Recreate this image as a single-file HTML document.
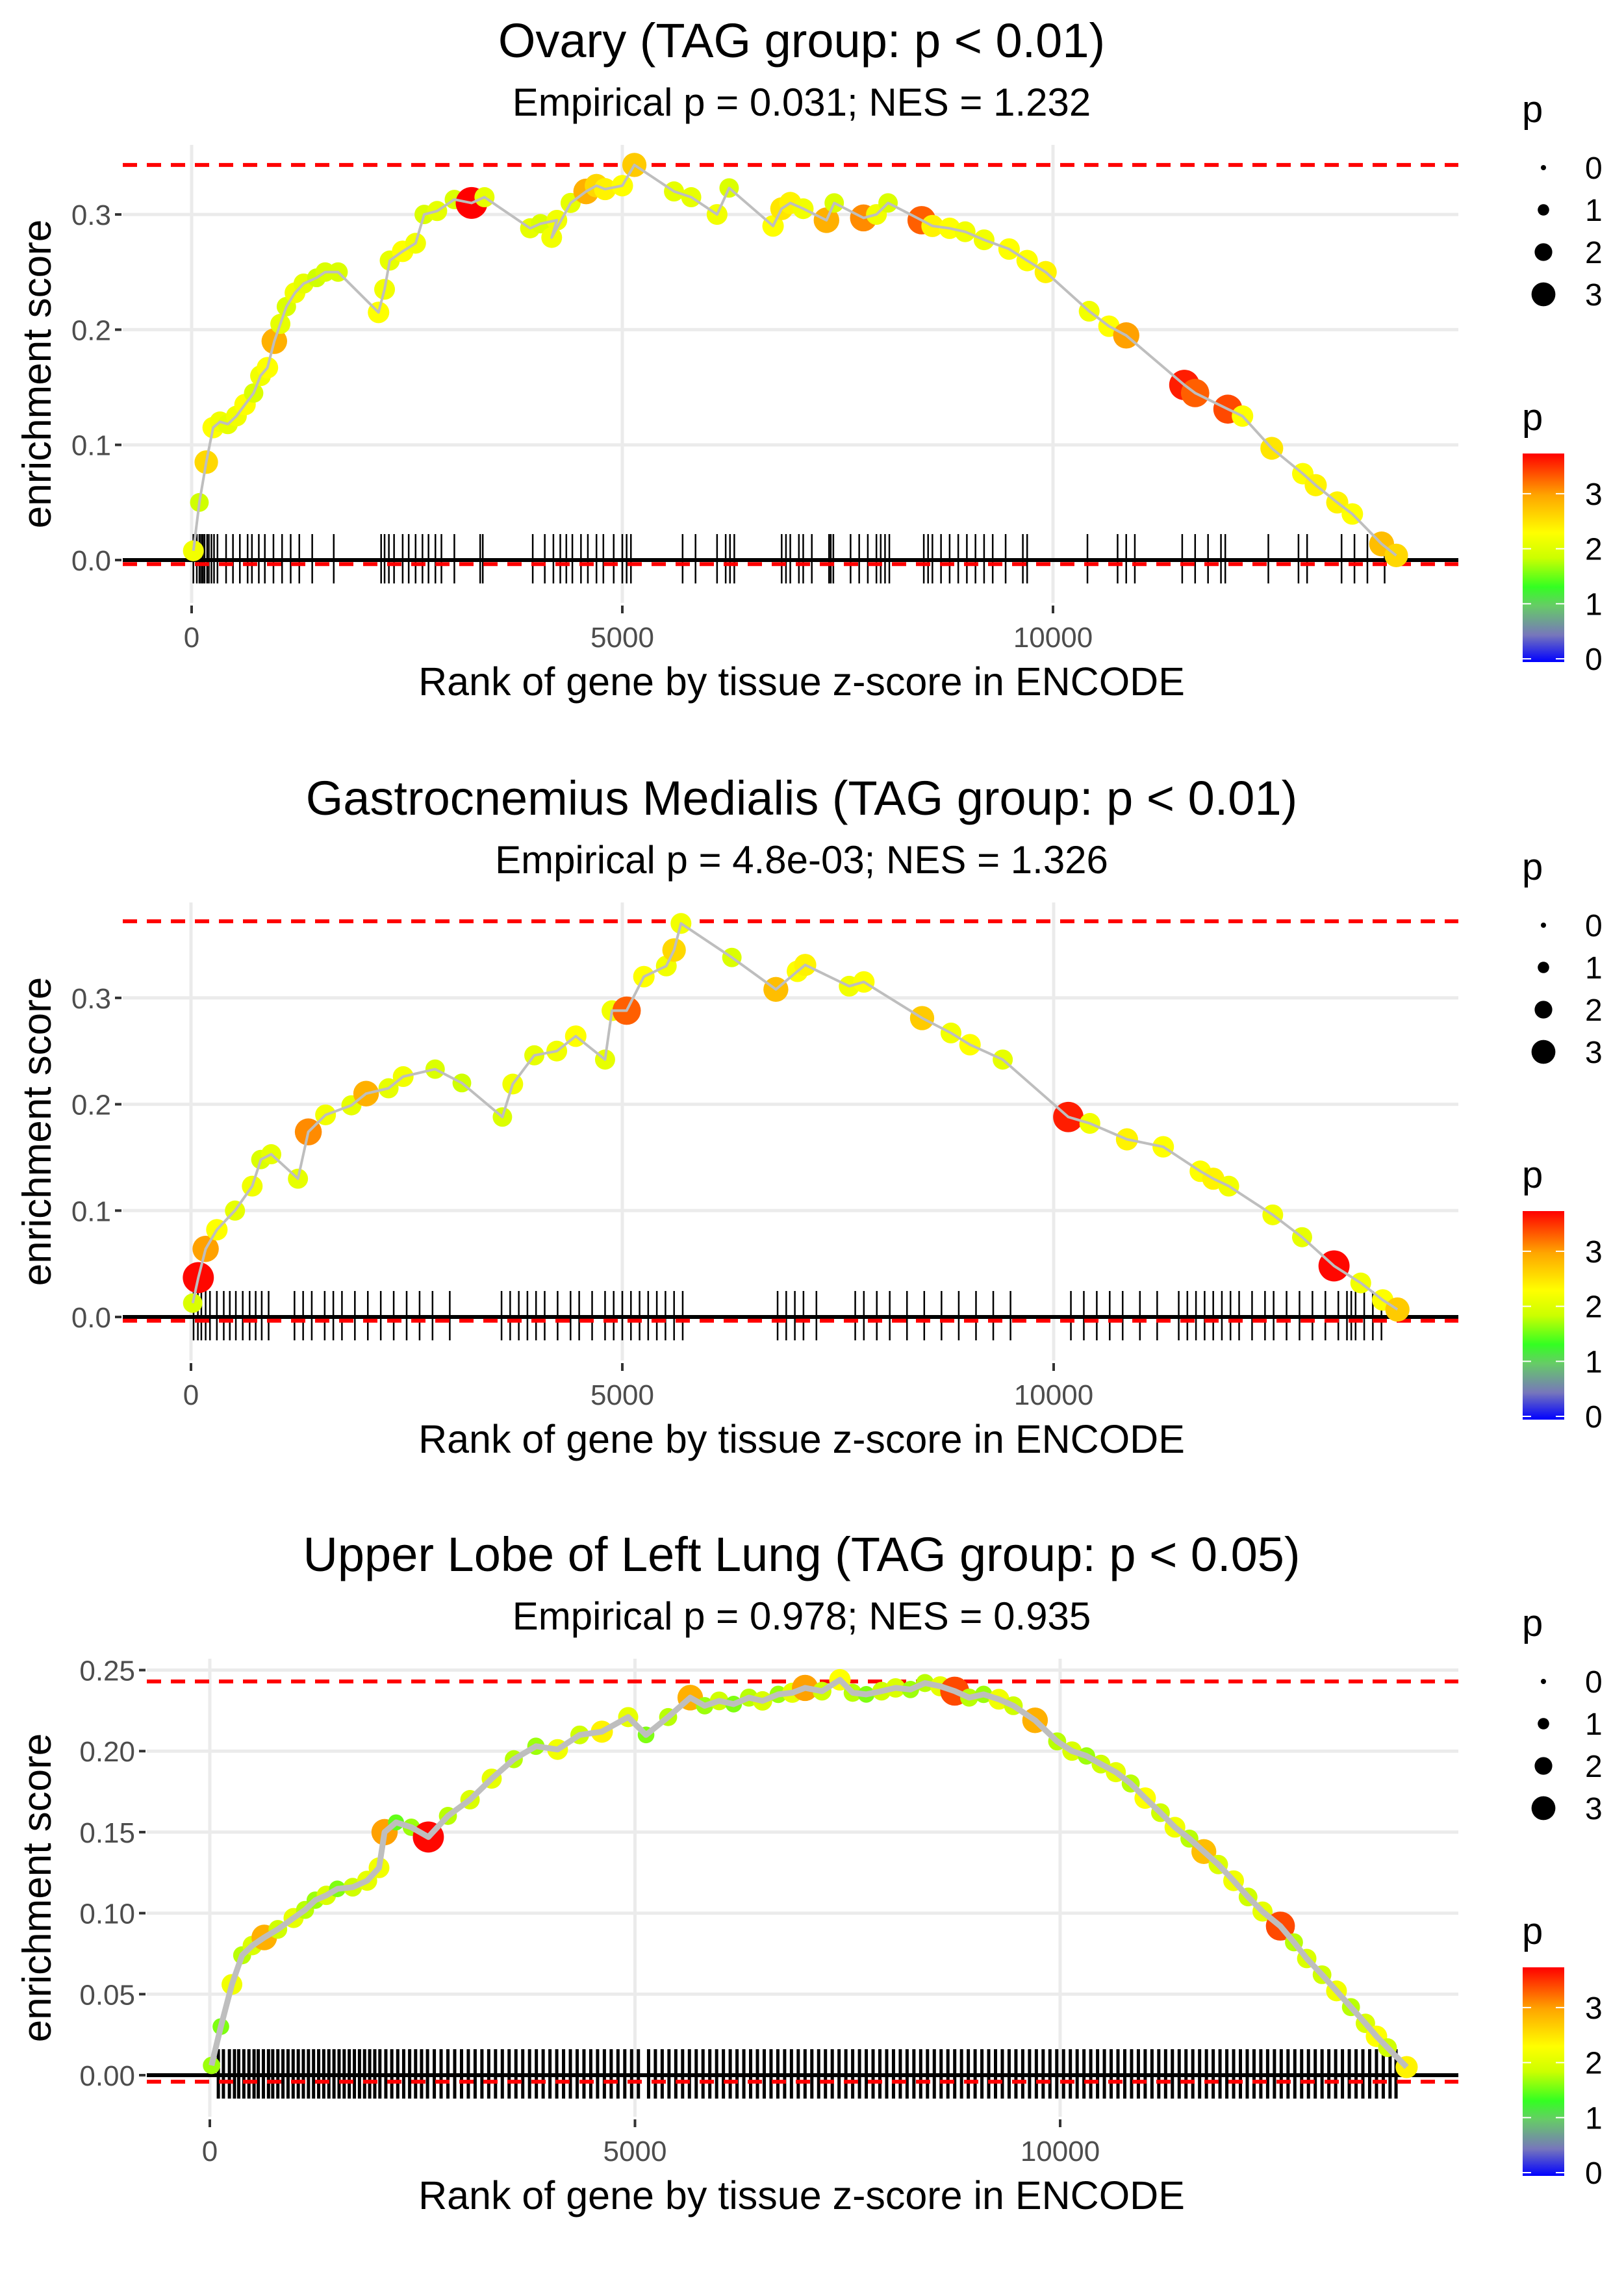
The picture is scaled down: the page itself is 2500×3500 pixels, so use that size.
<!DOCTYPE html>
<html><head><meta charset="utf-8">
<style>
html,body{margin:0;padding:0;background:#fff;}
svg{display:block;font-family:"Liberation Sans",Arial,sans-serif;}
</style></head>
<body>
<svg id="chart" width="2500" height="3500" viewBox="0 0 2500 3500" xmlns="http://www.w3.org/2000/svg">
<defs>
<linearGradient id="pgrad" x1="0" y1="1" x2="0" y2="0">
<stop offset="0" stop-color="#0000ff"/>
<stop offset="0.13" stop-color="#7777bb"/>
<stop offset="0.27" stop-color="#66cc66"/>
<stop offset="0.36" stop-color="#33ff22"/>
<stop offset="0.5" stop-color="#ccff00"/>
<stop offset="0.62" stop-color="#ffff00"/>
<stop offset="0.8" stop-color="#ffa500"/>
<stop offset="1" stop-color="#ff0000"/>
</linearGradient>
</defs>
</svg>
<script>
// ---------- Panel 1: Ovary ----------
const p1Ranks=[20,90,170,250,330,420,520,620,720,800,880,960,1030,1100,1200,1300,1450,1550,1700,2170,2240,2300,2450,2600,2700,2850,3050,3250,3400,3930,4050,4240,4180,4400,4580,4700,4800,5000,5140,5600,5800,6100,6240,6750,6850,6950,7100,7370,7460,7800,7950,8085,8475,8600,8800,8980,9200,9490,9700,9915,10420,10650,10850,11525,11650,12030,12200,12540,12900,13050,13300,13475,13815,13985];
const p1ES=[0.008,0.05,0.085,0.115,0.12,0.118,0.125,0.135,0.145,0.16,0.167,0.19,0.205,0.22,0.232,0.24,0.245,0.25,0.25,0.215,0.235,0.26,0.268,0.275,0.30,0.303,0.313,0.31,0.315,0.288,0.292,0.295,0.28,0.31,0.32,0.325,0.322,0.325,0.343,0.32,0.315,0.30,0.323,0.29,0.305,0.31,0.305,0.295,0.31,0.297,0.30,0.31,0.295,0.29,0.288,0.285,0.278,0.27,0.26,0.25,0.216,0.203,0.195,0.152,0.145,0.131,0.125,0.097,0.075,0.065,0.05,0.04,0.014,0.004];
const p1P=[2.2,1.9,2.6,2.3,2.2,2.1,2.2,2.3,2.0,2.2,2.3,2.9,2.1,2.0,2.2,2.1,1.9,2.0,2.0,2.3,2.2,2.1,2.3,2.2,2.0,2.1,2.0,3.8,2.1,2.1,2.0,2.2,2.2,2.1,2.9,2.6,2.4,2.3,2.7,2.1,2.1,2.2,2.0,2.3,2.5,2.4,2.2,2.9,2.0,3.1,2.2,2.0,3.3,2.4,2.3,2.2,2.2,2.3,2.3,2.4,2.2,2.3,3.0,3.6,3.3,3.4,2.3,2.5,2.3,2.4,2.4,2.3,2.8,2.6];
const p1Rug=[20,60,90,110,130,150,180,200,230,260,300,400,480,560,650,700,780,850,950,1050,1150,1250,1400,1650,2200,2240,2290,2350,2450,2520,2600,2680,2750,2830,2900,3050,3350,3380,3960,4100,4200,4280,4350,4420,4520,4600,4700,4780,4900,5000,5050,5100,5700,5850,6100,6200,6250,6300,6850,6900,6950,7050,7100,7200,7400,7420,7450,7650,7750,7850,7950,8000,8050,8100,8500,8550,8600,8700,8800,8900,9000,9100,9200,9300,9450,9650,9700,10400,10750,10850,10950,11500,11650,11800,11950,12000,12500,12850,12950,13350,13500,13650,13850];
const p1YTicks=[0,0.1,0.2,0.3];
const p1YLabels=["0.0","0.1","0.2","0.3"];
const p1Max=0.343, p1Min=-0.0035;

// ---------- Panel 2: Gastrocnemius Medialis ----------
const p2Ranks=[20,85,170,300,510,710,810,930,1240,1360,1560,1860,2030,2290,2460,2830,3140,3610,3730,3980,4240,4460,4800,4880,5050,5250,5510,5600,5680,6270,6780,7030,7120,7630,7800,8475,8810,9030,9410,10170,10420,10850,11270,11700,11850,12030,12540,12880,13250,13560,13815,13985];
const p2ES=[0.013,0.037,0.064,0.082,0.10,0.123,0.148,0.153,0.13,0.174,0.19,0.199,0.21,0.215,0.226,0.233,0.22,0.188,0.219,0.246,0.25,0.264,0.242,0.288,0.288,0.32,0.33,0.345,0.37,0.338,0.308,0.325,0.331,0.311,0.315,0.281,0.267,0.256,0.242,0.188,0.182,0.167,0.16,0.137,0.13,0.123,0.096,0.075,0.048,0.032,0.016,0.007];
const p2P=[2.0,3.7,3.0,2.3,2.1,2.2,2.0,2.1,2.1,3.1,2.2,2.1,2.9,2.1,2.2,2.0,1.9,2.0,2.2,2.1,2.2,2.3,2.1,2.2,3.3,2.3,2.2,2.6,2.2,2.0,2.8,2.3,2.4,2.2,2.3,2.7,2.2,2.3,2.1,3.6,2.2,2.4,2.3,2.3,2.4,2.2,2.2,2.1,3.7,2.2,2.3,2.7];
const p2Rug=[30,80,120,170,220,300,380,450,520,600,680,750,820,900,1200,1300,1400,1550,1650,1750,1900,2050,2200,2350,2500,2650,2800,3000,3600,3700,3800,3900,4000,4100,4250,4400,4500,4650,4800,4900,5000,5100,5200,5300,5400,5500,5600,5700,6800,6900,7000,7100,7250,7700,7800,7950,8100,8300,8500,8700,8900,9100,9300,9500,10200,10350,10500,10650,10800,11000,11200,11450,11550,11650,11750,11850,11950,12050,12150,12300,12450,12550,12700,12850,13000,13150,13300,13400,13450,13500,13600,13700,13800];
const p2YTicks=[0,0.1,0.2,0.3];
const p2YLabels=["0.0","0.1","0.2","0.3"];
const p2Max=0.372, p2Min=-0.0035;

// ---------- Panel 3: Upper Lobe of Left Lung ----------
const p3Ranks=[20,130,260,380,500,640,800,985,1120,1240,1370,1500,1680,1850,1990,2055,2190,2370,2570,2800,3060,3315,3575,3835,4090,4350,4610,4920,5130,5390,5650,5820,5990,6160,6340,6500,6685,6850,7000,7200,7410,7560,7720,7900,8065,8240,8410,8590,8760,8930,9100,9280,9450,9705,9965,10140,10310,10480,10655,10830,11000,11180,11350,11520,11690,11860,12040,12210,12380,12590,12750,12900,13080,13250,13420,13590,13720,13850,14075];
const p3ES=[0.006,0.03,0.056,0.074,0.08,0.085,0.09,0.097,0.102,0.108,0.111,0.115,0.116,0.12,0.128,0.15,0.156,0.153,0.147,0.16,0.17,0.183,0.195,0.203,0.201,0.21,0.212,0.221,0.21,0.221,0.233,0.228,0.231,0.229,0.233,0.231,0.235,0.236,0.239,0.237,0.244,0.236,0.235,0.237,0.239,0.238,0.242,0.24,0.237,0.233,0.235,0.232,0.228,0.219,0.206,0.2,0.197,0.192,0.187,0.18,0.171,0.162,0.153,0.146,0.138,0.13,0.12,0.11,0.101,0.092,0.082,0.072,0.062,0.052,0.042,0.032,0.024,0.017,0.005];
const p3P=[1.7,1.6,2.2,1.8,2.0,2.9,1.9,2.1,1.8,1.7,2.0,1.6,1.9,2.1,2.2,3.0,1.5,1.7,3.7,1.8,2.0,2.1,1.8,1.7,2.2,1.9,2.4,2.1,1.6,1.8,2.9,1.7,1.9,1.6,1.8,2.0,1.7,2.1,3.0,1.9,2.3,1.8,1.6,1.9,2.0,1.7,1.8,2.1,3.4,1.8,1.7,2.2,1.9,2.9,1.8,2.0,1.7,1.9,2.1,1.8,2.3,1.9,2.2,1.8,2.8,2.0,2.2,1.9,2.1,3.4,1.8,2.0,1.9,2.2,1.8,2.0,2.3,1.9,2.4];
const p3Rug=[100,160,230,290,340,400,460,520,570,630,690,740,800,860,920,980,1040,1100,1160,1220,1280,1340,1400,1460,1520,1580,1640,1700,1760,1820,1880,1940,2000,2070,2140,2210,2280,2350,2420,2490,2560,2640,2720,2800,2880,2960,3040,3120,3200,3280,3360,3440,3520,3600,3680,3760,3840,3920,4000,4080,4160,4240,4320,4400,4480,4560,4640,4720,4800,4880,4960,5040,5160,5240,5320,5400,5480,5560,5640,5720,5800,5880,5960,6040,6120,6200,6280,6360,6440,6520,6600,6680,6760,6840,6920,7000,7080,7160,7240,7320,7400,7480,7560,7640,7720,7800,7880,7960,8040,8120,8200,8280,8360,8440,8520,8600,8680,8760,8840,8920,9000,9080,9160,9240,9320,9400,9480,9560,9640,9720,9800,9880,9960,10040,10120,10200,10280,10360,10440,10520,10600,10680,10760,10840,10920,11000,11080,11160,11240,11320,11400,11480,11560,11640,11720,11800,11880,11960,12040,12120,12200,12280,12360,12440,12520,12600,12680,12760,12840,12920,13000,13080,13160,13240,13320,13400,13480,13560,13640,13720,13800,13880,13950];
const p3YTicks=[0,0.05,0.1,0.15,0.2,0.25];
const p3YLabels=["0.00","0.05","0.10","0.15","0.20","0.25"];
const p3Max=0.243, p3Min=-0.004;

const xTicks=[0,5000,10000];
const xTickLabels=["0","5000","10000"];

const NS="http://www.w3.org/2000/svg";
const svg=document.getElementById('chart');
function mk(tag,attrs,parent){const e=document.createElementNS(NS,tag);for(const k in attrs)e.setAttribute(k,attrs[k]);(parent||svg).appendChild(e);return e;}

const stops=[[0,[0,0,255]],[0.13,[119,119,187]],[0.27,[102,204,102]],[0.36,[51,255,34]],[0.5,[204,255,0]],[0.62,[255,255,0]],[0.8,[255,165,0]],[1,[255,0,0]]];
function pColor(p){let t=Math.max(0,Math.min(1,p/3.73));for(let i=1;i<stops.length;i++){if(t<=stops[i][0]){const a=stops[i-1],b=stops[i];const f=(t-a[0])/(b[0]-a[0]);const c=a[1].map((v,j)=>Math.round(v+(b[1][j]-v)*f));return `rgb(${c[0]},${c[1]},${c[2]})`;}}return 'rgb(255,0,0)';}
function pRadius(p){return 4+4.8*p;}

function drawPanel(cfg){
  const g=mk('g',{});
  
  
  const xs=r=>cfg.x0+r*cfg.kx;
  const ys=v=>cfg.y0-v*cfg.ky;
  const L=cfg.left,R=2245,T=cfg.top,B=cfg.top+705;
  cfg.yTicks.forEach((v,i)=>{
    const gl=mk('line',{x1:L,x2:R,y1:ys(v),y2:ys(v),stroke:'#ebebeb','stroke-width':5},g);
    
    
    const tk=mk('line',{x1:L-12,x2:L-2,y1:ys(v),y2:ys(v),stroke:'#333','stroke-width':4},g);
    
    
    const t=mk('text',{x:L-18,y:ys(v)+16,'text-anchor':'end','font-size':44,fill:'#4d4d4d'},g);
    t.textContent=cfg.yLabels[i];
    
    
  });
  xTicks.forEach((v,i)=>{
    const gl=mk('line',{x1:xs(v),x2:xs(v),y1:T,y2:B,stroke:'#ebebeb','stroke-width':5},g);
    
    
    const tk=mk('line',{x1:xs(v),x2:xs(v),y1:B+4,y2:B+16,stroke:'#333','stroke-width':4},g);
    
    
    const t=mk('text',{x:xs(v),y:B+68,'text-anchor':'middle','font-size':44,fill:'#4d4d4d'},g);
    t.textContent=xTickLabels[i];
    
    
  });
  cfg.rug.forEach(r=>{
    const l=mk('line',{x1:xs(r),x2:xs(r),y1:cfg.y0-40,y2:cfg.y0+36,stroke:'#000','stroke-width':cfg.rugW},g);
    
    
  });
  const z=mk('line',{x1:L,x2:R,y1:ys(0),y2:ys(0),stroke:'#000','stroke-width':6},g);
  
  
  [cfg.max,cfg.min].forEach(v=>{
    const d=mk('line',{x1:L,x2:R,y1:ys(v),y2:ys(v),stroke:'#ff0000','stroke-width':6,'stroke-dasharray':'22 15'},g);
    
    
  });
  cfg.ranks.forEach((r,i)=>{
    const c=mk('circle',{cx:xs(r),cy:ys(cfg.es[i]),r:pRadius(cfg.p[i])*1.1,fill:pColor(cfg.p[i])},g);
    
    
  });
  const pts=cfg.ranks.map((r,i)=>xs(r).toFixed(1)+','+ys(cfg.es[i]).toFixed(1)).join(' ');
  const pl=mk('polyline',{points:pts,fill:'none',stroke:'#bebebe','stroke-width':cfg.lineW,'stroke-linejoin':'round'},g);
  
  
  const cx=1234;
  const t1=mk('text',{x:cx,y:cfg.oy+88,'text-anchor':'middle','font-size':74,fill:'#000'},g);
  t1.textContent=cfg.title;
  
  
  const t2=mk('text',{x:cx,y:cfg.oy+178,'text-anchor':'middle','font-size':60,fill:'#000'},g);
  t2.textContent=cfg.subtitle;
  
  
  const xt=mk('text',{x:cx,y:cfg.oy+1070,'text-anchor':'middle','font-size':61,fill:'#000'},g);
  xt.textContent='Rank of gene by tissue z-score in ENCODE';
  
  
  const yc=(T+B)/2;
  const yt=mk('text',{x:0,y:0,'text-anchor':'middle','font-size':62,fill:'#000',transform:`translate(78,${yc}) rotate(-90)`},g);
  yt.textContent='enrichment score';
  
  
  const oy=cfg.oy;
  const lt=mk('text',{x:2343,y:oy+188,'font-size':58,fill:'#000'},g);
  lt.textContent='p';
  
  
  [0,1,2,3].forEach((v,i)=>{
    const y=oy+258+i*65;
    const c=mk('circle',{cx:2376,cy:y,r:pRadius(v),fill:'#000'},g);
    
    
    const t=mk('text',{x:2440,y:y+17,'font-size':48,fill:'#000'},g);
    t.textContent=String(v);
    
    
  });
  const ct=mk('text',{x:2343,y:oy+662,'font-size':58,fill:'#000'},g);
  ct.textContent='p';
  
  
  const bar=mk('rect',{x:2344,y:oy+698,width:64,height:321,fill:'url(#pgrad)'},g);
  
  
  [0,1,2,3].forEach(v=>{
    const y=oy+1014-v*84.7;
    mk('line',{x1:2344,x2:2357,y1:y,y2:y,stroke:'#fff','stroke-width':2},g);
    mk('line',{x1:2395,x2:2408,y1:y,y2:y,stroke:'#fff','stroke-width':2},g);
    const t=mk('text',{x:2440,y:y+17,'font-size':48,fill:'#000'},g);
    t.textContent=String(v);
    
    
  });
}

drawPanel({name:'panel-ovary',oy:0,top:223,left:189,x0:295,kx:0.1326,y0:862,ky:1773,
  ranks:p1Ranks,es:p1ES,p:p1P,rug:p1Rug,yTicks:p1YTicks,yLabels:p1YLabels,max:p1Max,min:p1Min,
  title:'Ovary (TAG group: p < 0.01)',subtitle:'Empirical p = 0.031; NES = 1.232',lineW:4,rugW:2.5});
drawPanel({name:'panel-gastrocnemius',oy:1166,top:1389,left:189,x0:294,kx:0.1328,y0:2027,ky:1637,
  ranks:p2Ranks,es:p2ES,p:p2P,rug:p2Rug,yTicks:p2YTicks,yLabels:p2YLabels,max:p2Max,min:p2Min,
  title:'Gastrocnemius Medialis (TAG group: p < 0.01)',subtitle:'Empirical p = 4.8e-03; NES = 1.326',lineW:4,rugW:2.5});
drawPanel({name:'panel-lung',oy:2330,top:2553,left:226,x0:323,kx:0.1309,y0:3194,ky:2494,
  ranks:p3Ranks,es:p3ES,p:p3P,rug:p3Rug,yTicks:p3YTicks,yLabels:p3YLabels,max:p3Max,min:p3Min,
  title:'Upper Lobe of Left Lung (TAG group: p < 0.05)',subtitle:'Empirical p = 0.978; NES = 0.935',lineW:9,rugW:5});
</script>
</body></html>
